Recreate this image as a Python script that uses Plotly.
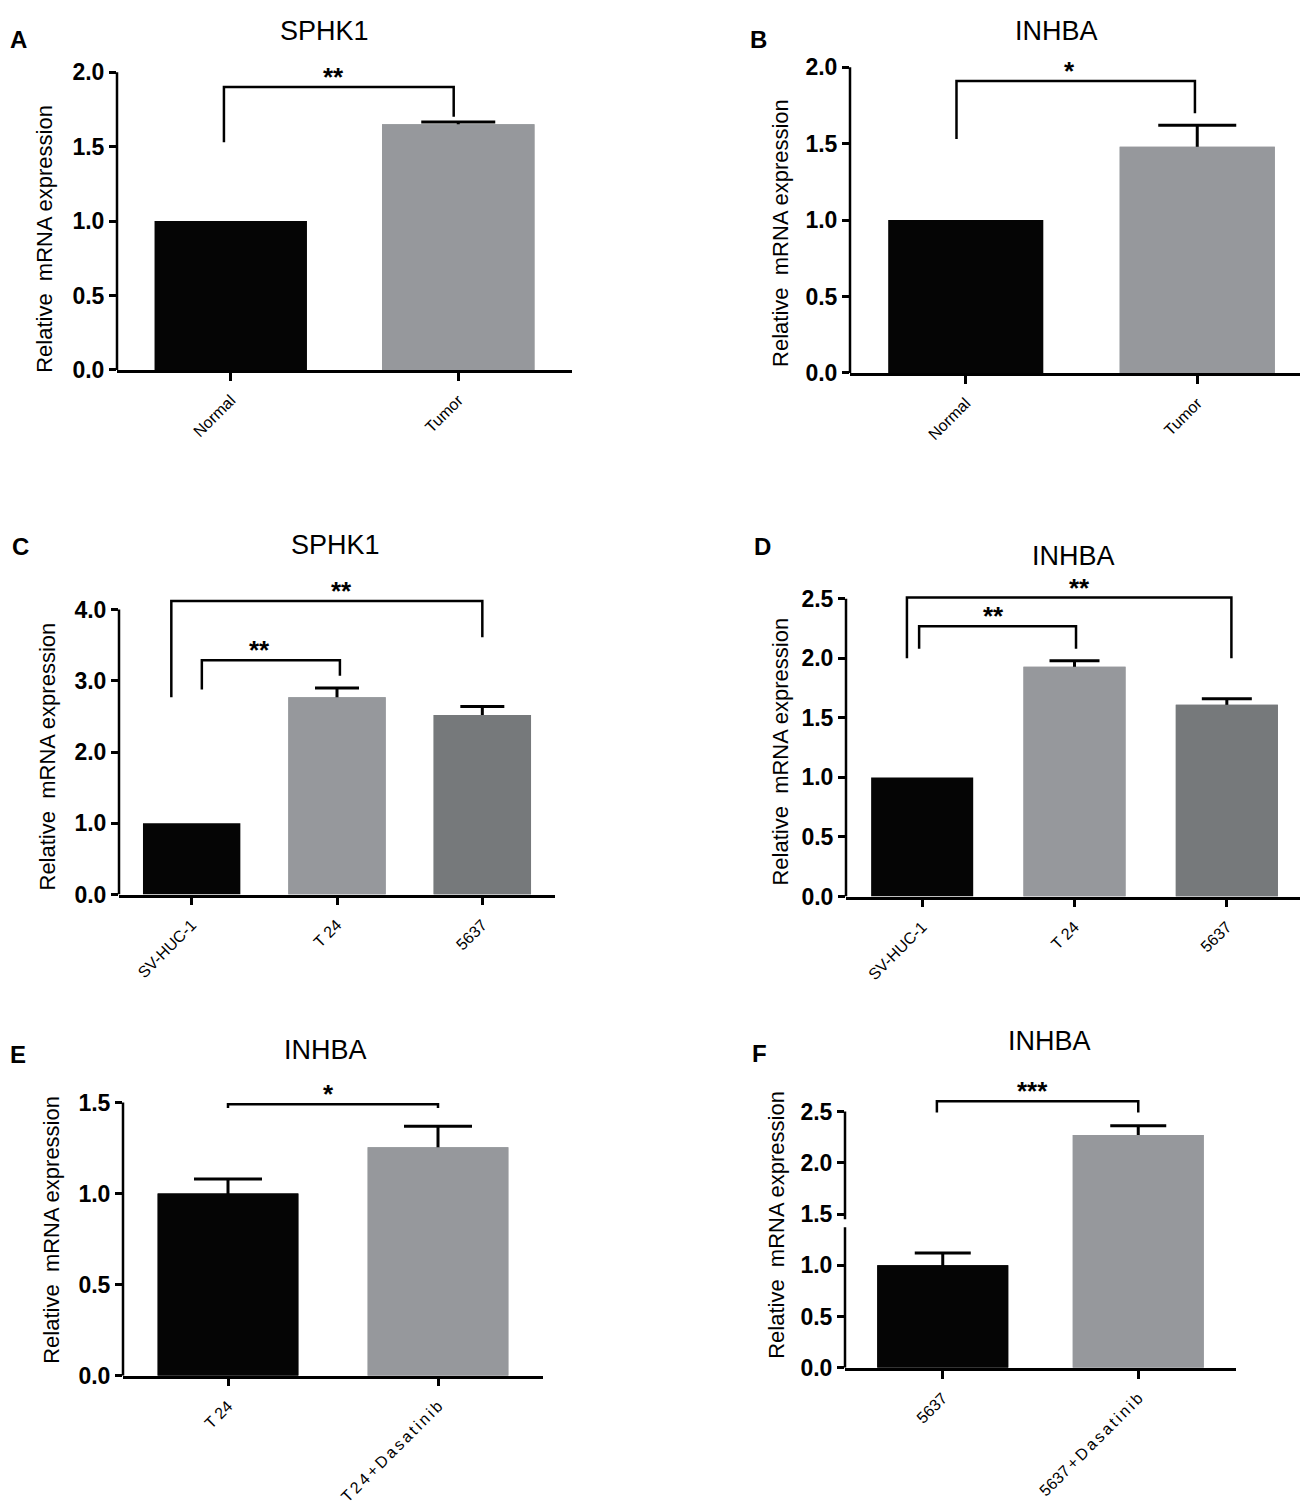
import plotly.graph_objects as go

W, H = 1308, 1503
FONT = "Liberation Sans, Arial, sans-serif"
TS = "\u2006"  # six-per-em space used for the letter-spaced tick labels

# ---------------- data ----------------
# A  SPHK1 (tissue)
a_labels = ["Normal", "Tumor"]
a_values = [1.0, 1.65]
a_errors = [0.0, 0.015]

# B  INHBA (tissue)
b_labels = ["Normal", "Tumor"]
b_values = [1.0, 1.48]
b_errors = [0.0, 0.14]

# C  SPHK1 (cell lines)
c_labels = ["SV-HUC-1", "T 24", "5637"]
c_values = [1.0, 2.77, 2.52]
c_errors = [0.0, 0.13, 0.12]

# D  INHBA (cell lines)
d_labels = ["SV-HUC-1", "T 24", "5637"]
d_values = [1.0, 1.93, 1.61]
d_errors = [0.0, 0.05, 0.05]

# E  INHBA, T24 +/- Dasatinib
e_labels = ["T 24", TS.join("T24+Dasatinib")]
e_values = [1.0, 1.255]
e_errors = [0.08, 0.115]

# F  INHBA, 5637 +/- Dasatinib
f_labels = ["5637", "5637" + TS + TS.join("+Dasatinib")]
f_values = [1.0, 2.27]
f_errors = [0.12, 0.09]

# significance brackets: (left x, right x, bracket y, left foot y, right foot y, star x, text)
a_brackets = [(-0.03, 0.98, 1.90, 1.53, 1.70, 0.45, "**")]
b_brackets = [(-0.04, 0.99, 1.91, 1.53, 1.70, 0.45, "*")]
c_brackets = [(-0.14, 2.0, 4.12, 2.77, 3.61, 1.03, "**"),
              (0.07, 1.02, 3.29, 2.88, 3.07, 0.47, "**")]
d_brackets = [(-0.1, 2.03, 2.51, 2.0, 2.0, 1.03, "**"),
              (-0.02, 1.01, 2.27, 2.08, 2.08, 0.47, "**")]
e_brackets = [(0.0, 1.0, 1.49, 1.47, 1.47, 0.48, "*")]
f_brackets = [(-0.03, 1.0, 2.6, 2.49, 2.49, 0.46, "***")]

# y tick values and pieces of the drawn y axis line (F has a break)
a_ticks = [0, 0.5, 1.0, 1.5, 2.0]
b_ticks = [0, 0.5, 1.0, 1.5, 2.0]
c_ticks = [0, 1, 2, 3, 4]
d_ticks = [0, 0.5, 1.0, 1.5, 2.0, 2.5]
e_ticks = [0, 0.5, 1.0, 1.5]
f_ticks = [0, 0.5, 1.0, 1.5, 2.0, 2.5]
f_axis_pieces = [(0, 1.37), (1.45, 2.5)]

BLACK = "#050505"
GRAY = "#96989c"
DARK = "#76797b"

# panel setup: data + where the frame sits on the page (pixels)
panels = [
    dict(letter="A", title="SPHK1", labels=a_labels, values=a_values, errors=a_errors,
         colors=[BLACK, GRAY], brackets=a_brackets, ticks=a_ticks, ytop=2.03,
         xpx=(109, 564), base=359, ppu=151.0, cap=37,
         title_at=(316, 15), letter_at=(11, 24), ytitle_at=(37, 226)),
    dict(letter="B", title="INHBA", labels=b_labels, values=b_values, errors=b_errors,
         colors=[BLACK, GRAY], brackets=b_brackets, ticks=b_ticks, ytop=2.03,
         xpx=(842, 1305), base=362, ppu=155.0, cap=39,
         title_at=(1048, 15), letter_at=(750, 24), ytitle_at=(773, 220)),
    dict(letter="C", title="SPHK1", labels=c_labels, values=c_values, errors=c_errors,
         colors=[BLACK, GRAY, DARK], brackets=c_brackets, ticks=c_ticks, ytop=4.2,
         xpx=(111, 547), base=891, ppu=72.25, cap=22,
         title_at=(328, 536), letter_at=(12, 538), ytitle_at=(40, 751)),
    dict(letter="D", title="INHBA", labels=d_labels, values=d_values, errors=d_errors,
         colors=[BLACK, GRAY, DARK], brackets=d_brackets, ticks=d_ticks, ytop=2.56,
         xpx=(838, 1295), base=893, ppu=120.8, cap=25,
         title_at=(1065, 548), letter_at=(754, 538), ytitle_at=(773, 746)),
    dict(letter="E", title="INHBA", labels=e_labels, values=e_values, errors=e_errors,
         colors=[BLACK, GRAY], brackets=e_brackets, ticks=e_ticks, ytop=1.53,
         xpx=(115, 535), base=1379, ppu=184.7, cap=34,
         title_at=(317, 1049), letter_at=(10, 1053), ytitle_at=(44, 1231)),
    dict(letter="F", title="INHBA", labels=f_labels, values=f_values, errors=f_errors,
         colors=[BLACK, GRAY], brackets=f_brackets, ticks=f_ticks, ytop=2.65,
         xpx=(837, 1228), base=1371, ppu=104.0, cap=28,
         title_at=(1041, 1040), letter_at=(751, 1052), ytitle_at=(769, 1226),
         pieces=f_axis_pieces),
]


def px_x(v):
    return v / W


def px_y(v):
    return 1 - v / H


fig = go.Figure()
shapes = []
annotations = []
layout = {}

for i, p in enumerate(panels, start=1):
    sfx = "" if i == 1 else str(i)
    xr, yr = "x" + sfx, "y" + sfx
    n = len(p["values"])
    xs = list(range(n))

    # bars that carry an error bar (symmetric), then all bars drawn on top,
    # so only the upper half of each error bar shows, as in Prism
    ex = [k for k in xs if p["errors"][k] > 0]
    fig.add_trace(go.Bar(
        x=ex, y=[p["values"][k] for k in ex], width=0.67,
        marker=dict(color=[p["colors"][k] for k in ex], line_width=0),
        error_y=dict(type="data", array=[p["errors"][k] for k in ex], symmetric=True,
                     color="black", thickness=3, width=p["cap"]),
        xaxis=xr, yaxis=yr, showlegend=False, hoverinfo="skip"))
    fig.add_trace(go.Bar(
        x=xs, y=p["values"], width=0.67, marker=dict(color=p["colors"], line_width=0),
        xaxis=xr, yaxis=yr, showlegend=False))

    x0, x1 = p["xpx"]
    top_px = p["base"] - p["ppu"] * p["ytop"]
    layout["xaxis" + sfx] = dict(
        domain=[px_x(x0), px_x(x1)], anchor=yr, range=[-0.5, n - 0.5],
        tickvals=xs, ticktext=p["labels"], tickangle=-45, ticklabelstandoff=4,
        showline=True, linewidth=2.5, linecolor="black", ticks="outside",
        ticklen=8, tickwidth=2.5, tickcolor="black", showgrid=False, zeroline=False,
        tickfont=dict(family=FONT, size=16, color="black"), fixedrange=True)
    layout["yaxis" + sfx] = dict(
        domain=[px_y(p["base"]), px_y(top_px)], anchor=xr, range=[0, p["ytop"]],
        tickvals=p["ticks"], tickformat=".1f", showline=False, ticks="outside",
        ticklen=7, tickwidth=2.5, tickcolor="black", showgrid=False, zeroline=False,
        tickfont=dict(family=FONT, size=23, color="black", weight="bold"),
        fixedrange=True)

    # y axis line, stopping at the top tick
    for lo, hi in p.get("pieces", [(0, p["ticks"][-1])]):
        shapes.append(dict(type="line", xref=xr + " domain", yref=yr, x0=0, x1=0,
                           y0=lo, y1=hi, line=dict(color="black", width=2.5)))

    for xl, xrt, yb, yfl, yfr, xs_star, txt in p["brackets"]:
        shapes.append(dict(
            type="path", xref=xr, yref=yr,
            path=f"M {xl},{yfl} L {xl},{yb} L {xrt},{yb} L {xrt},{yfr}",
            line=dict(color="black", width=2.5)))
        annotations.append(dict(
            x=xs_star, y=yb, xref=xr, yref=yr, text=txt, showarrow=False,
            xanchor="center", yanchor="bottom", yshift=-7,
            font=dict(family=FONT, size=26, color="black", weight="bold")))

    tx, ty = p["title_at"]
    annotations.append(dict(x=px_x(tx), y=px_y(ty), xref="paper", yref="paper",
                            text=p["title"], showarrow=False, xanchor="center",
                            yanchor="middle",
                            font=dict(family=FONT, size=27, color="black")))
    lx, ly = p["letter_at"]
    annotations.append(dict(x=px_x(lx), y=px_y(ly), xref="paper", yref="paper",
                            text=p["letter"], showarrow=False, xanchor="center",
                            yanchor="middle",
                            font=dict(family=FONT, size=24, color="black", weight="bold")))
    yx, yy = p["ytitle_at"]
    annotations.append(dict(x=px_x(yx), y=px_y(yy), xref="paper", yref="paper",
                            text="Relative\u00a0 mRNA expression", textangle=-90,
                            showarrow=False, xanchor="center", yanchor="middle",
                            font=dict(family=FONT, size=22, color="black")))

fig.update_layout(
    width=W, height=H, margin=dict(l=0, r=0, t=0, b=0),
    paper_bgcolor="white", plot_bgcolor="white", barmode="overlay",
    showlegend=False, shapes=shapes, annotations=annotations, **layout)

fig.write_html("out.html")
